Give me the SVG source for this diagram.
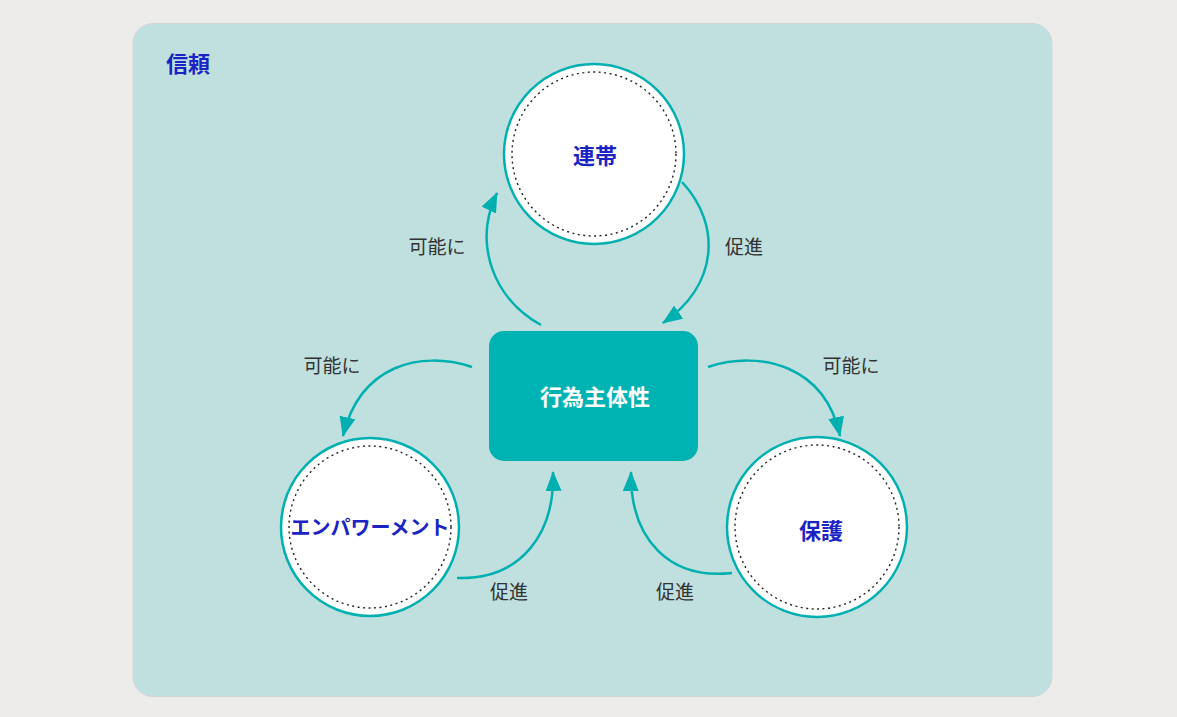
<svg xmlns="http://www.w3.org/2000/svg" width="1177" height="717" viewBox="0 0 1177 717">
<defs>
<style>
.ring{fill:#fff;stroke:#00b0b0;stroke-width:2.5}
.dots{fill:none;stroke:#222;stroke-width:1.4;stroke-dasharray:2 3.5}
.node-t{font-family:"Noto Sans CJK JP","Noto Sans",sans-serif;font-weight:bold;font-size:22px;fill:#1a24c4;text-anchor:middle;dominant-baseline:central}
.lbl{font-family:"Noto Sans CJK JP","Noto Sans",sans-serif;font-size:19px;fill:#333;text-anchor:middle;dominant-baseline:central}
.conn{fill:none;stroke:#00b0b0;stroke-width:2.5}
</style>
<marker id="ah" markerUnits="userSpaceOnUse" markerWidth="20" markerHeight="16" viewBox="0 0 20 16" refX="19" refY="8" orient="auto">
<path d="M0,0 L20,8 L0,16 Z" fill="#00b0b0"/>
</marker>
</defs>
<rect x="0" y="0" width="1177" height="717" fill="#eeeceb"/>
<g id="panel">
<rect x="133" y="23.5" width="919" height="673" rx="20" fill="#c0e0df" stroke="#cfd6d6" stroke-width="1"/>
<text x="166" y="62" style="font-family:'Noto Sans CJK JP','Noto Sans',sans-serif;font-weight:bold;font-size:22px;fill:#1a24c4;dominant-baseline:central">信頼</text>
</g>
<g id="connectors">
<path class="conn" d="M541,325 C495,300 472,245 497,193" marker-end="url(#ah)"/>
<path class="conn" d="M682,182 C722,225 718,285 663,323" marker-end="url(#ah)"/>
<path class="conn" d="M472,367 C420,350 360,365 343,436" marker-end="url(#ah)"/>
<path class="conn" d="M708,367 C760,350 825,365 840,436" marker-end="url(#ah)"/>
<path class="conn" d="M457,578 C520,580 555,535 553,472" marker-end="url(#ah)"/>
<path class="conn" d="M732,573 C670,580 630,540 631,472" marker-end="url(#ah)"/>
<text class="lbl" x="437" y="245">可能に</text>
<text class="lbl" x="744" y="245">促進</text>
<text class="lbl" x="332" y="364">可能に</text>
<text class="lbl" x="851" y="364">可能に</text>
<text class="lbl" x="509" y="590">促進</text>
<text class="lbl" x="675" y="590">促進</text>
</g>
<g id="node-rentai">
<circle class="ring" cx="594" cy="154" r="90"/>
<circle class="dots" cx="594" cy="154" r="82"/>
<text class="node-t" x="595" y="154">連帯</text>
</g>
<g id="node-agency">
<rect x="489" y="331" width="209" height="130" rx="15" fill="#00b3b3"/>
<text class="node-t" x="595" y="395" style="fill:#fff">行為主体性</text>
</g>
<g id="node-empowerment">
<circle class="ring" cx="370" cy="527" r="89"/>
<circle class="dots" cx="370" cy="527" r="81"/>
<text class="node-t" x="370" y="526" style="font-size:20px">エンパワーメント</text>
</g>
<g id="node-hogo">
<circle class="ring" cx="817" cy="527" r="90"/>
<circle class="dots" cx="817" cy="527" r="82"/>
<text class="node-t" x="821" y="529">保護</text>
</g>
</svg>
